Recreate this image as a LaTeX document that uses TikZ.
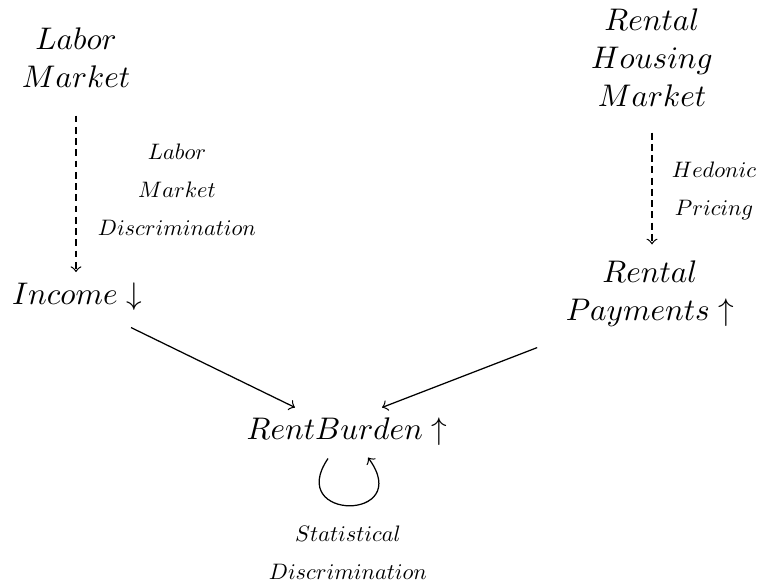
\documentclass[tikz,border=0pt]{standalone}
\usepackage{amsmath}
\usepackage{amssymb}
\usepackage{tikz}
\usetikzlibrary{arrows}

\begin{document}
\begin{tikzpicture}[x=0.32pt, y=-0.32pt,
  factor/.style={align=center},
  effect/.style={align=center, scale=0.716, transform shape},
  channel/.style={->, dash pattern=on 2.2pt off 1.4pt}]
\useasboundingbox (0, 0) rectangle (759, 582);
\node[factor] (labor) at (76, 58) {$Labor$\\[0.2pt]$Market$};
\node[factor] (housing) at (652, 58) {$Rental$\\[0.2pt]$Housing$\\[0.2pt]$Market$};
\node[factor] (income) at (77, 297) {$Income\downarrow$};
\node[factor] (payments) at (650, 294) {$Rental$\\[0.2pt]$Payments\uparrow$};
\node[factor] (burden) at (347, 432) {$RentBurden\uparrow$};
\node[effect] (discr) at (177, 190) {$Labor$\\[5pt]$Market$\\[5pt]$Discrimination$};
\node[effect] (hedonic) at (714, 191) {$Hedonic$\\[5pt]$Pricing$};
\node[effect] (stat) at (348, 553) {$Statistical$\\[5pt]$Discrimination$};
\draw[channel, shorten <=5.3pt] (labor.south) -- (labor.south |- income.north);
\draw[channel, shorten <=4.7pt, shorten >=1.8pt] (housing.south) -- (housing.south |- payments.north);
\draw[->] ([shift={(-22, 5.6)}]income.south east) -- ([shift={(-52, 0.4)}]burden.north);
\draw[->] ([shift={(-17.6, 9.6)}]payments.south west) -- ([shift={(35, 0.4)}]burden.north);
\draw[->] ([shift={(-19, 1.6)}]burden.south) .. controls +(-43, 63) and +(47, 64) .. ([shift={(21, 0.6)}]burden.south);
\end{tikzpicture}
\end{document}
